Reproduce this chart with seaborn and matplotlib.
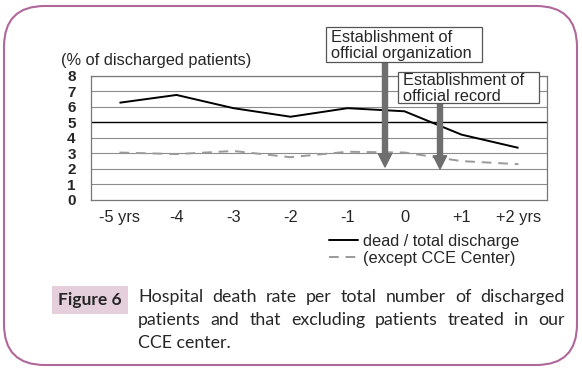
import numpy as np
import pandas as pd
import seaborn as sns
import matplotlib.pyplot as plt
from matplotlib.patches import Rectangle, FancyBboxPatch

years = ["-5 yrs", "-4", "-3", "-2", "-1", "0", "+1", "+2 yrs"]
dead_total = [6.25, 6.75, 5.9, 5.35, 5.9, 5.7, 4.2, 3.35]
except_cce = [3.05, 2.95, 3.15, 2.75, 3.1, 3.05, 2.5, 2.3]
series_names = ["dead / total discharge", "(except CCE Center)"]
yticks = [0, 1, 2, 3, 4, 5, 6, 7, 8]
caption_lines = ["Hospital death rate per total number of discharged",
                 "patients and that excluding patients treated in our",
                 "CCE center."]

W, H = 582, 371
FS = 11.8

df = pd.DataFrame({
    "pos": list(range(len(years))) * 2,
    "value": dead_total + except_cce,
    "series": [series_names[0]] * len(years) + [series_names[1]] * len(years),
})

sns.set_style("white")
plt.rcParams["font.family"] = ["Liberation Sans", "DejaVu Sans"]

fig = plt.figure(figsize=(W / 100, H / 100), dpi=100)
ax = fig.add_axes([91 / W, 1 - 200 / H, 456 / W, 124.5 / H])

sns.lineplot(data=df, x="pos", y="value", hue="series", style="series",
             palette=["black", "#9a9a9a"],
             dashes=[(1, 0), (5, 3.5)], linewidth=1.4, ax=ax, legend=False,
             zorder=3)

ax.set_xlim(-0.5, len(years) - 0.5)
ax.set_ylim(0, 8)
ax.set_yticks(yticks)
ax.set_yticklabels([str(v) for v in yticks], fontweight="bold", fontsize=11)
ax.tick_params(axis="y", length=0, pad=11)
ax.set_xticks(np.arange(len(years) - 1) + 0.5)
ax.set_xticklabels([])
ax.tick_params(axis="x", which="major", direction="in", length=4,
               color="#777777", width=0.8)
ax.set_xticks(np.arange(len(years)), minor=True)
ax.set_xticklabels(years, minor=True, fontsize=FS)
ax.tick_params(axis="x", which="minor", length=0, pad=7)
ax.set_xlabel("")
ax.set_ylabel("")
for v in yticks[1:]:
    ax.axhline(v, color="black" if v == 5 else "#8c8c8c",
               lw=1.0 if v == 5 else 0.8, zorder=1)
for s in ax.spines.values():
    s.set_color("#777777")
    s.set_linewidth(0.9)

fig.text(61 / W, 1 - 61 / H, "(% of discharged patients)", fontsize=FS,
         va="center", ha="left")

# annotation boxes
def note_box(x0, y0, x1, y1, lines):
    fig.add_artist(Rectangle((x0 / W, 1 - y1 / H), (x1 - x0) / W, (y1 - y0) / H,
                             transform=fig.transFigure, facecolor="white",
                             edgecolor="#555555", lw=0.9, zorder=5))
    fig.text((x0 + 5) / W, 1 - ((y0 + y1) / 2 + 1) / H, "\n".join(lines),
             fontsize=FS, va="center", ha="left", linespacing=1.02, zorder=6)

note_box(326, 27, 482, 62, ["Establishment of", "official organization"])
note_box(398, 72, 539, 103, ["Establishment of", "official record"])

def px_to_data(px, py):
    return (px - 119.5) / 57.0, (200 - py) / 15.56

for (bx, by_top, by_tip) in [(385, 62, 167), (440, 103, 169)]:
    xs, ys = px_to_data(bx, by_top)
    xt, yt = px_to_data(bx, by_tip)
    ax.annotate("", xy=(xt, yt), xytext=(xs, ys), xycoords="data",
                textcoords="data", annotation_clip=False,
                arrowprops=dict(width=3.6, headwidth=9.5, headlength=9.5,
                                facecolor="#6e6e6e", edgecolor="#6e6e6e",
                                shrink=0), zorder=4)

# legend
fig.legend(handles=[plt.Line2D([], [], color="black", lw=1.4),
                    plt.Line2D([], [], color="#9a9a9a", lw=1.4, dashes=(5, 3.5))],
           labels=series_names, loc="upper left",
           bbox_to_anchor=(329 / W, 1 - 234 / H), frameon=False, fontsize=FS,
           handlelength=1.75, handletextpad=0.3, labelspacing=0.1,
           borderpad=0, borderaxespad=0)

# outer frame
fig.add_artist(FancyBboxPatch((4 / W, 6 / H), 573 / W, 359 / H,
                              boxstyle="round,pad=0,rounding_size=0.07",
                              transform=fig.transFigure, facecolor="none",
                              edgecolor="#b0679a", lw=1.5,
                              mutation_aspect=W / H, zorder=0))

# caption
fig.add_artist(Rectangle((52 / W, 1 - 314 / H), 76 / W, 28 / H,
                         transform=fig.transFigure, facecolor="#e6cfdc",
                         edgecolor="none"))
fig.text(90 / W, 1 - 300 / H, "Figure 6", fontsize=12.5, fontweight="bold",
         family=["Lato", "DejaVu Sans"], ha="center", va="center")

cap_left, cap_right = 138, 565
renderer = fig.canvas.get_renderer()
for i, line in enumerate(caption_lines):
    yy = 1 - (297 + 23 * i) / H
    words = line.split(" ")
    if i < len(caption_lines) - 1:
        texts = [fig.text(0, yy, w, fontsize=12.8, family=["Lato", "DejaVu Sans"],
                          va="center", ha="left") for w in words]
        widths = [t.get_window_extent(renderer).width for t in texts]
        gap = (cap_right - cap_left - sum(widths)) / (len(words) - 1)
        x = cap_left
        for t, w in zip(texts, widths):
            t.set_x(x / W)
            x += w + gap
    else:
        fig.text(cap_left / W, yy, line, fontsize=12.8,
                 family=["Lato", "DejaVu Sans"], va="center", ha="left")

fig.savefig("out.png", dpi=100)
